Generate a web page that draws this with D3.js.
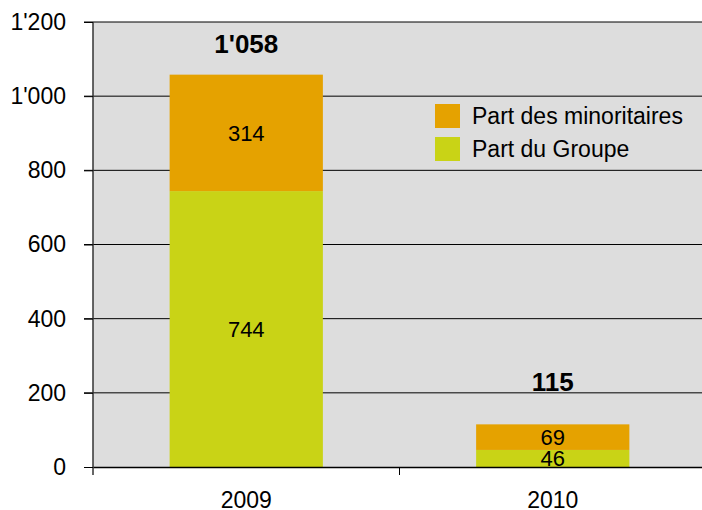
<!DOCTYPE html>
<html>
<head>
<meta charset="utf-8">
<script src="https://cdn.jsdelivr.net/npm/d3@7"></script>
<style>
  body { margin: 0; background: #fff; }
  svg { font-family: "Liberation Sans", Arial, sans-serif; }
</style>
</head>
<body>
<svg width="702" height="510"></svg>
<script>
const years = ['2009', '2010'];
const groupe = [744, 46];
const minoritaires = [314, 69];
const totals = [1058, 115];
const yTicks = [0, 200, 400, 600, 800, 1000, 1200];
const seriesNames = ['Part des minoritaires', 'Part du Groupe'];
const colors = ['#e5a200', '#c9d316'];

const svg = d3.select('svg');
const plotLeft = 93, plotRight = 706, plotTop = 22, plotBottom = 467;
const totalGap = [22, 33];

const fmt = v => d3.format(',')(v).replace(/,/g, "'");

const x = d3.scaleBand().domain(years).range([plotLeft, plotRight]).paddingInner(0).paddingOuter(0);
const y = d3.scaleLinear().domain([0, 1200]).range([plotBottom, plotTop]);

svg.append('rect')
    .attr('x', plotLeft).attr('y', plotTop)
    .attr('width', plotRight - plotLeft).attr('height', plotBottom - plotTop)
    .attr('fill', '#dddddd');

// gridlines
svg.append('g').selectAll('line')
    .data(yTicks.slice(1))
    .join('line')
    .attr('x1', plotLeft - 9).attr('x2', plotRight)
    .attr('y1', d => y(d)).attr('y2', d => y(d))
    .attr('stroke', '#000').attr('stroke-width', 1);

// bars
const stackData = years.map((yr, i) => ({ year: yr, groupe: groupe[i], min: minoritaires[i] }));
const stack = d3.stack().keys(['groupe', 'min'])(stackData);
const barW = x.bandwidth() * 0.5;

svg.append('g').selectAll('g')
    .data(stack)
    .join('g')
    .attr('fill', d => d.key === 'min' ? colors[0] : colors[1])
    .selectAll('rect')
    .data(d => d)
    .join('rect')
    .attr('x', d => x(d.data.year) + (x.bandwidth() - barW) / 2)
    .attr('y', d => y(d[1]))
    .attr('width', barW)
    .attr('height', d => y(d[0]) - y(d[1]));

// segment labels
svg.append('g').selectAll('g')
    .data(stack)
    .join('g')
    .selectAll('text')
    .data(d => d.map(s => ({ s, key: d.key })))
    .join('text')
    .attr('x', d => x(d.s.data.year) + x.bandwidth() / 2)
    .attr('y', d => (y(d.s[0]) + y(d.s[1])) / 2)
    .attr('dy', '0.36em')
    .attr('text-anchor', 'middle')
    .attr('font-size', 22)
    .text(d => d.s[1] - d.s[0]);

// totals
svg.append('g').selectAll('text')
    .data(totals)
    .join('text')
    .attr('x', (d, i) => x(years[i]) + x.bandwidth() / 2)
    .attr('y', (d, i) => y(d) - totalGap[i])
    .attr('text-anchor', 'middle')
    .attr('font-size', 26)
    .attr('font-weight', 'bold')
    .text(d => fmt(d));

// y axis
const yAxis = svg.append('g')
    .attr('transform', `translate(${plotLeft},0)`)
    .call(d3.axisLeft(y).tickValues(yTicks).tickSize(9).tickPadding(18).tickFormat(fmt));
yAxis.select('.domain').attr('stroke', '#333').attr('stroke-width', 1.5).attr('d', `M0,${plotTop}V${plotBottom + 8}`);
yAxis.selectAll('text').attr('font-size', 23).attr('font-family', '"Liberation Sans", Arial, sans-serif').attr('fill', '#000');

// x axis
const xAxis = svg.append('g')
    .attr('transform', `translate(0,${plotBottom})`)
    .call(d3.axisBottom(x).tickSize(0));
xAxis.select('.domain').attr('stroke', '#000').attr('stroke-width', 1.5);
xAxis.selectAll('text')
    .attr('y', 41).attr('dy', 0)
    .attr('font-size', 23).attr('font-family', '"Liberation Sans", Arial, sans-serif').attr('fill', '#000');
xAxis.append('line')
    .attr('x1', x('2010')).attr('x2', x('2010'))
    .attr('y1', 0).attr('y2', 8)
    .attr('stroke', '#000');

// legend
const legend = svg.append('g').attr('transform', 'translate(435,104)');
const items = legend.selectAll('g')
    .data(seriesNames)
    .join('g')
    .attr('transform', (d, i) => `translate(0,${i * 33})`);
items.append('rect')
    .attr('width', 25).attr('height', 24)
    .attr('fill', (d, i) => colors[i]);
items.append('text')
    .attr('x', 37).attr('y', 12).attr('dy', '0.36em')
    .attr('font-size', 23)
    .text(d => d);
</script>
</body>
</html>
